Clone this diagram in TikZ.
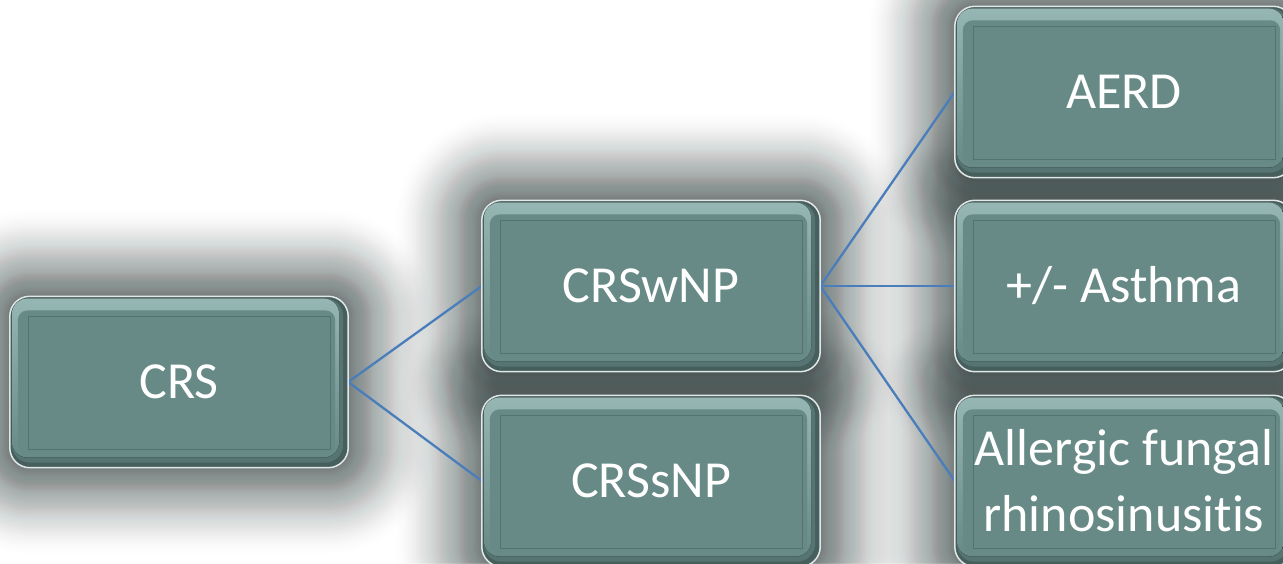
\documentclass[tikz,border=0pt]{standalone}
\usepackage{fontspec}
\newfontfamily\boxfont[Ligatures=NoCommon]{Carlito}
\usetikzlibrary{calc}
\pgfdeclarelayer{bg}
\pgfdeclarelayer{glow}
\pgfdeclarelayer{edges}
\pgfdeclarelayer{face}
\pgfsetlayers{bg,glow,edges,face,main}
\definecolor{glowc}{RGB}{58,74,72}
\definecolor{facec}{RGB}{103,138,134}
\definecolor{bevdark}{RGB}{70,94,92}
\definecolor{bevmid}{RGB}{86,116,113}
\definecolor{bevlight}{RGB}{150,182,179}
\definecolor{framec}{RGB}{84,114,110}
\definecolor{rimc}{RGB}{226,232,232}
\definecolor{linkc}{RGB}{74,126,187}
\tikzset{
  box/.style={rectangle, minimum width=338pt, minimum height=171pt, inner sep=0pt,
    text=white, align=center, font=\boxfont\fontsize{52}{66}\selectfont},
  link/.style={draw=linkc, line width=2.3pt},
}
\begin{document}
\begin{tikzpicture}[x=1pt,y=1pt]
\begin{pgfonlayer}{bg}
\fill[white] (0,0) rectangle (1283,563);
\end{pgfonlayer}
\useasboundingbox (0,0) rectangle (1283,563);
\node[box] (crs) at (179,181) {CRS};
\node[box] (wnp) at (651,277) {CRSwNP};
\node[box] (snp) at (651,82) {CRSsNP};
\node[box] (aerd) at (1124,471) {AERD};
\node[box] (asth) at (1124,277) {+/- Asthma};
\node[box] (afr) at (1124,82) {Allergic fungal\\rhinosinusitis};
\foreach \n in {crs,wnp,snp,aerd,asth,afr}{
  \begin{pgfonlayer}{glow}
    \foreach \i in {1,...,45}{
      \pgfmathsetmacro\rr{20+\i*2}
      \pgfmathsetmacro\op{0.04*(1-(\i-1)/45)}
      \fill[glowc, opacity=\op, rounded corners=\rr pt]
        ($(\n.south west)+(-\i*2,-\i*2)$) rectangle ($(\n.north east)+(\i*2,\i*2)$);
    }
  \end{pgfonlayer}
  \begin{pgfonlayer}{face}
    \fill[bevdark, draw=rimc, line width=1.5pt, rounded corners=20pt]
      (\n.south west) rectangle (\n.north east);
    \fill[bevmid, rounded corners=18pt]
      ($(\n.south west)+(2,5)$) rectangle ($(\n.north east)+(-5,-2)$);
    \fill[top color=bevlight, bottom color=facec, rounded corners=16pt]
      ($(\n.south west)+(2,10)$) rectangle ($(\n.north east)+(-9,-2)$);
    \fill[facec, rounded corners=10pt]
      ($(\n.south west)+(8,14)$) rectangle ($(\n.north east)+(-13,-14)$);
    \draw[framec, line width=1pt]
      ($(\n.south west)+(19,18)$) rectangle ($(\n.north east)+(-18,-20)$);
  \end{pgfonlayer}
}
\begin{pgfonlayer}{edges}
  \draw[link] (crs.east) -- (wnp.west);
  \draw[link] (crs.east) -- (snp.west);
  \draw[link] (wnp.east) -- (aerd.west);
  \draw[link] (wnp.east) -- (asth.west);
  \draw[link] (wnp.east) -- (afr.west);
\end{pgfonlayer}
\end{tikzpicture}
\end{document}
